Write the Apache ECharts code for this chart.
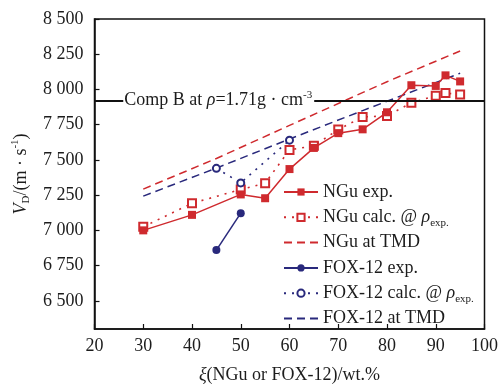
<!DOCTYPE html>
<html>
<head>
<meta charset="utf-8">
<script src="https://cdn.jsdelivr.net/npm/echarts@6/dist/echarts.min.js"></script>
<style>
  html, body { margin: 0; padding: 0; background: #fff; }
  #chart { width: 501px; height: 391px; }
</style>
</head>
<body>
<div id="chart"></div>
<script>
// Detonation velocity vs. mass fraction of NGu / FOX-12
const xNGu     = [30, 40, 50, 55, 60, 65, 70, 75, 80, 85, 90, 92, 95];
const nguExp   = [7000, 7110, 7255, 7228, 7435, 7585, 7690, 7717, 7838, 8030, 8025, 8100, 8057];
const nguCalc  = [7025, 7192, 7290, 7335, 7571, 7600, 7715, 7805, 7812, 7905, 7956, 7974, 7965];
const xNGuTMD  = [30, 45, 60, 80, 95];
const nguTMD   = [7293, 7510, 7745, 8055, 8273];

const xFoxExp  = [45, 50];
const foxExp   = [6860, 7122];
const xFoxCalc = [45, 50, 60];
const foxCalc  = [7440, 7337, 7640];
const xFoxTMD  = [30, 45, 60, 75, 95];
const foxTMD   = [7243, 7442, 7648, 7850, 8115];

const compB = 7920;          // Comp B at 1.71 g/cm3
const compBLabelX = 25.9;    // where its caption starts, in wt.%

const yTicks = [6500, 6750, 7000, 7250, 7500, 7750, 8000, 8250, 8500];

const seriesNames = ['NGu exp.', 'NGu calc. @ ρexp.', 'NGu at TMD',
                     'FOX-12 exp.', 'FOX-12 calc. @ ρexp.', 'FOX-12 at TMD'];
const legendRich = {
  'NGu exp.': 'NGu exp.',
  'NGu calc. @ ρexp.': 'NGu calc. @ {it|ρ}{sub|exp.}',
  'NGu at TMD': 'NGu at TMD',
  'FOX-12 exp.': 'FOX-12 exp.',
  'FOX-12 calc. @ ρexp.': 'FOX-12 calc. @ {it|ρ}{sub|exp.}',
  'FOX-12 at TMD': 'FOX-12 at TMD'
};
const lineOnly = ['NGu at TMD', 'FOX-12 at TMD'];

const RED = '#cf2a2e';
const NAVY = '#29297c';
const FONT = '"Liberation Serif", "Times New Roman", serif';
const INK = '#1c1c1c';

const pairs = (xs, ys) => xs.map((x, i) => [x, ys[i]]);
const spaced = v => String(v).replace(/\B(?=(\d{3})+(?!\d))/g, ' ');

const richStyles = {
  it:  { fontFamily: FONT, fontSize: 18, fontStyle: 'italic', color: INK, lineHeight: 22 },
  sub: { fontFamily: FONT, fontSize: 11, color: INK, lineHeight: 11, verticalAlign: 'bottom' },
  sup: { fontFamily: FONT, fontSize: 11, color: INK, lineHeight: 11, verticalAlign: 'top' }
};

const chart = echarts.init(document.getElementById('chart'), null, { renderer: 'canvas' });

const option = {
  animation: false,
  backgroundColor: '#fff',
  textStyle: { fontFamily: FONT, color: INK },
  grid: {
    left: 94.5, right: 16, top: 19, bottom: 55.5,
    show: true, borderColor: '#111', borderWidth: 1.5, backgroundColor: 'transparent'
  },
  legend: {
    orient: 'vertical',
    left: 283, top: 181,
    padding: 0,
    itemWidth: 34, itemHeight: 9,
    itemGap: 3.3,
    data: seriesNames.map(n => lineOnly.includes(n)
      ? { name: n, itemStyle: { color: 'rgba(0,0,0,0)', borderWidth: 0 } }
      : { name: n }),
    formatter: name => legendRich[name],
    textStyle: { fontFamily: FONT, fontSize: 18, color: INK, lineHeight: 22, rich: richStyles }
  },
  xAxis: {
    type: 'value', min: 20, max: 100, interval: 10,
    name: '{it|ξ}(NGu or FOX-12)/wt.%',
    nameLocation: 'middle', nameGap: 35,
    nameTextStyle: { fontFamily: FONT, fontSize: 18, color: INK, lineHeight: 22, rich: richStyles },
    axisLine: { lineStyle: { color: '#111', width: 1.5 } },
    axisTick: { inside: true, length: 5, lineStyle: { color: '#111', width: 1.2 } },
    axisLabel: { fontFamily: FONT, fontSize: 18, color: INK, margin: 8 },
    splitLine: { show: false }
  },
  yAxis: {
    type: 'value', min: 6300, max: 8500,
    name: '{it|V}{sub|D}/(m · s{sup|-1})',
    nameLocation: 'middle', nameGap: 62,
    nameTextStyle: { fontFamily: FONT, fontSize: 18, color: INK, lineHeight: 22, rich: richStyles },
    axisLine: { lineStyle: { color: '#111', width: 1.5 } },
    axisTick: { inside: true, length: 5, customValues: yTicks, lineStyle: { color: '#111', width: 1.2 } },
    axisLabel: { fontFamily: FONT, fontSize: 18, color: INK, margin: 11, customValues: yTicks, formatter: spaced },
    splitLine: { show: false }
  },
  series: [
    {
      name: 'NGu at TMD', type: 'line', data: pairs(xNGuTMD, nguTMD),
      symbol: 'none', z: 2,
      lineStyle: { color: RED, width: 1.5, type: [8, 5] },
      itemStyle: { color: RED }
    },
    {
      name: 'FOX-12 at TMD', type: 'line', data: pairs(xFoxTMD, foxTMD),
      symbol: 'none', z: 2,
      lineStyle: { color: NAVY, width: 1.5, type: [8, 5] },
      itemStyle: { color: NAVY }
    },
    {
      name: 'NGu calc. @ ρexp.', type: 'line', data: pairs(xNGu, nguCalc),
      symbol: 'emptyRect', symbolSize: 8, z: 3,
      lineStyle: { color: RED, width: 1.6, type: [2, 6] },
      itemStyle: { color: RED, borderColor: RED, borderWidth: 1.3 }
    },
    {
      name: 'FOX-12 calc. @ ρexp.', type: 'line', data: pairs(xFoxCalc, foxCalc),
      symbol: 'emptyCircle', symbolSize: 7, z: 3,
      lineStyle: { color: NAVY, width: 1.6, type: [2, 6] },
      itemStyle: { color: NAVY, borderColor: NAVY, borderWidth: 1.3 }
    },
    {
      name: 'NGu exp.', type: 'line', data: pairs(xNGu, nguExp),
      symbol: 'rect', symbolSize: 8, z: 4,
      lineStyle: { color: RED, width: 1.5 },
      itemStyle: { color: RED }
    },
    {
      name: 'FOX-12 exp.', type: 'line', data: pairs(xFoxExp, foxExp),
      symbol: 'circle', symbolSize: 8, z: 4,
      lineStyle: { color: NAVY, width: 1.5 },
      itemStyle: { color: NAVY }
    },
    {
      // Comp B reference level
      name: 'Comp B', type: 'line', data: [], z: 5,
      markLine: {
        silent: true, symbol: 'none',
        lineStyle: { color: '#111', width: 2, type: 'solid' },
        label: { show: false },
        data: [[{ coord: [20, compB] }, { coord: [100, compB] }]]
      }
    }
  ]
};

chart.setOption(option);

// caption sitting on the Comp B line
const at = chart.convertToPixel({ gridIndex: 0 }, [compBLabelX, compB]);
chart.setOption({
  graphic: [{
    type: 'text', z: 100, x: at[0], y: at[1],
    style: {
      text: 'Comp B at {it|ρ}=1.71g · cm{sup|-3}',
      fontFamily: FONT, fontSize: 18, fill: INK, lineHeight: 22,
      verticalAlign: 'middle', align: 'left',
      backgroundColor: '#fff', padding: [0, 2, 0, 1],
      rich: {
        it:  { fontFamily: FONT, fontSize: 18, fontStyle: 'italic', fill: INK, lineHeight: 22 },
        sup: { fontFamily: FONT, fontSize: 11, fill: INK, lineHeight: 11, verticalAlign: 'top' }
      }
    }
  }]
});
</script>
</body>
</html>
